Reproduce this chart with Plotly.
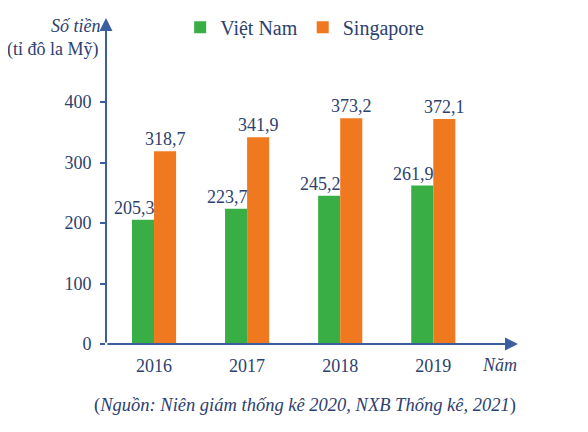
import plotly.graph_objects as go

years = ["2016", "2017", "2018", "2019"]
vietnam = [205.3, 223.7, 245.2, 261.9]
singapore = [318.7, 341.9, 373.2, 372.1]
vn_labels = ["205,3", "223,7", "245,2", "261,9"]
sg_labels = ["318,7", "341,9", "373,2", "372,1"]
y_ticks = [0, 100, 200, 300, 400]

GREEN = "#39ae44"
ORANGE = "#f0781e"
AXIS = "#3b5f9e"
TEXT = "#2d416f"
FONT = "Liberation Serif"

xpos = list(range(len(years)))
bw = 0.237

fig = go.Figure()
fig.add_trace(go.Bar(x=xpos, y=vietnam, name="Việt Nam", marker_color=GREEN,
                     marker_line_width=0, width=bw, offset=-bw))
fig.add_trace(go.Bar(x=xpos, y=singapore, name="Singapore", marker_color=ORANGE,
                     marker_line_width=0, width=bw, offset=0))

for i in xpos:
    fig.add_annotation(x=i - bw / 2, y=vietnam[i], text=vn_labels[i], showarrow=False,
                       yanchor="bottom", xshift=-9, yshift=0,
                       font=dict(family=FONT, size=18, color=TEXT))
    fig.add_annotation(x=i + bw / 2, y=singapore[i], text=sg_labels[i], showarrow=False,
                       yanchor="bottom", yshift=0,
                       font=dict(family=FONT, size=18, color=TEXT))

# axis arrows
fig.add_annotation(xref="paper", yref="paper", x=0, y=1, ax=0, ay=326,
                   showarrow=True, arrowhead=2, arrowsize=1.3, arrowwidth=2, arrowcolor=AXIS, text="")
fig.add_annotation(xref="paper", yref="paper", x=1, y=0, ax=-412, ay=0,
                   showarrow=True, arrowhead=2, arrowsize=1.3, arrowwidth=2, arrowcolor=AXIS, text="")

# axis titles
fig.add_annotation(xref="paper", yref="paper", x=-0.008, y=1.0, xanchor="right", yanchor="middle",
                   yshift=-8, text="<i>Số tiền</i>", showarrow=False,
                   font=dict(family=FONT, size=18, color=TEXT))
fig.add_annotation(xref="paper", yref="paper", x=-0.012, y=1.0, xanchor="right", yanchor="middle",
                   yshift=-31, text="(tỉ đô la Mỹ)", showarrow=False,
                   font=dict(family=FONT, size=18, color=TEXT))
fig.add_annotation(xref="paper", yref="paper", x=1.0, y=0, xanchor="right", yanchor="middle",
                   yshift=-21, xshift=1, text="<i>Năm</i>", showarrow=False,
                   font=dict(family=FONT, size=18, color=TEXT))
fig.add_annotation(xref="paper", yref="paper", x=0.484, y=0, xanchor="center", yanchor="middle",
                   yshift=-61, text="(<i>Nguồn: Niên giám thống kê 2020, NXB Thống kê, 2021</i>)",
                   showarrow=False, font=dict(family=FONT, size=18.5, color=TEXT))

# The page body has an 8px default margin, so the figure is shrunk and margins offset by 8px
fig.update_layout(
    width=580, height=424,
    margin=dict(l=98, r=70, t=10, b=88, autoexpand=False),
    paper_bgcolor="white", plot_bgcolor="white",
    barmode="overlay",
    showlegend=True,
    legend=dict(orientation="h", x=0.18, y=0.972, xanchor="left", yanchor="middle",
                font=dict(family=FONT, size=20, color=TEXT), itemwidth=30,
                tracegroupgap=0, bgcolor="rgba(0,0,0,0)"),
    xaxis=dict(range=[-0.516, 3.91], tickmode="array", tickvals=xpos, ticktext=years,
               showgrid=False, zeroline=False, showline=False, ticks="",
               ticklabelstandoff=9,
               tickfont=dict(family=FONT, size=18, color=TEXT)),
    yaxis=dict(range=[0, 539], tickmode="array", tickvals=y_ticks,
               showgrid=False, zeroline=False, showline=False, ticks="outside",
               ticklen=5, tickwidth=1.5, tickcolor=AXIS, ticklabelstandoff=5,
               tickfont=dict(family=FONT, size=18, color=TEXT)),
)

fig.write_html("out.html")
